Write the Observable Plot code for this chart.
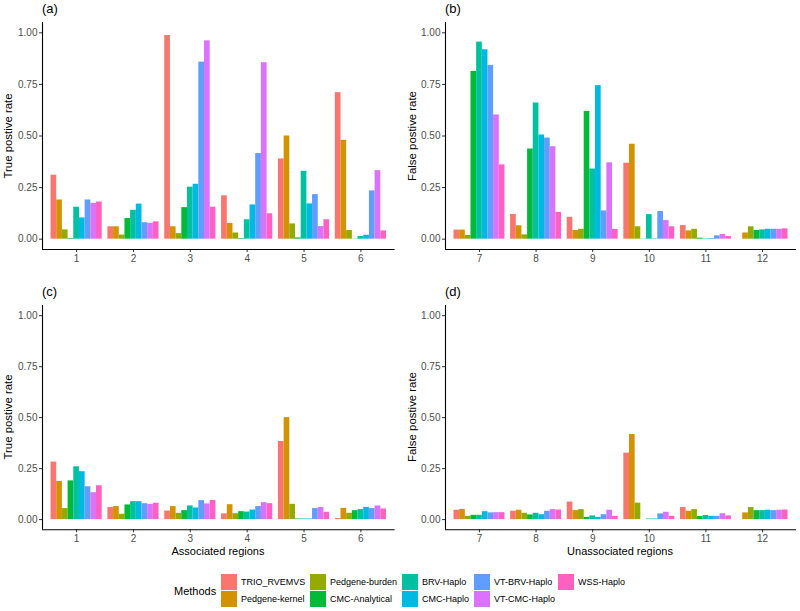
<!DOCTYPE html>
<html>
<head>
<meta charset="utf-8">
<script src="https://cdn.jsdelivr.net/npm/d3@7"></script>
<script src="https://cdn.jsdelivr.net/npm/@observablehq/plot@0.6"></script>
<style>
  body { margin: 0; background: #fff; font-family: "Liberation Sans", Arial, Helvetica, sans-serif; }
  #fig { position: relative; width: 800px; height: 611px; overflow: hidden; }
  .panel { position: absolute; }
  .plabel { position: absolute; font-size: 13px; line-height: 13px; color: #000; }
  .ytitle { position: absolute; font-size: 11.4px; color: #000; white-space: nowrap; transform: translate(-50%, -50%) rotate(-90deg); }
  .xtitle { position: absolute; font-size: 11px; color: #000; white-space: nowrap; transform: translate(-50%, -50%); }
  .leg-title { position: absolute; font-size: 11px; color: #000; transform: translateY(-50%); }
  .leg-key { position: absolute; width: 16px; height: 16px; }
  .leg-text { position: absolute; font-size: 9px; color: #000; transform: translateY(-50%); white-space: nowrap; }
</style>
</head>
<body>
<div id="fig"></div>
<script>
const methods = ["TRIO_RVEMVS", "Pedgene-kernel", "Pedgene-burden", "CMC-Analytical", "BRV-Haplo", "CMC-Haplo", "VT-BRV-Haplo", "VT-CMC-Haplo", "WSS-Haplo"];
const methodColors = ["#F8766D", "#D39200", "#93AA00", "#00BA38", "#00C19F", "#00B9E3", "#619CFF", "#DB72FB", "#FF61C3"];

const associatedRegions = [1, 2, 3, 4, 5, 6];
const unassociatedRegions = [7, 8, 9, 10, 11, 12];
const yTicks = [0, 0.25, 0.5, 0.75, 1];

// values per region, in method order
const tprA = [
  [0.31, 0.19, 0.045, 0.003, 0.155, 0.103, 0.19, 0.173, 0.18],
  [0.06, 0.06, 0.02, 0.10, 0.14, 0.17, 0.08, 0.077, 0.084],
  [0.987, 0.06, 0.027, 0.153, 0.252, 0.266, 0.858, 0.961, 0.155],
  [0.21, 0.076, 0.03, 0.003, 0.094, 0.166, 0.415, 0.855, 0.123],
  [0.389, 0.50, 0.074, 0.006, 0.329, 0.171, 0.216, 0.061, 0.094],
  [0.71, 0.479, 0.042, 0.001, 0.013, 0.019, 0.234, 0.332, 0.04]
];
const fprB = [
  [0.044, 0.044, 0.018, 0.813, 0.955, 0.918, 0.842, 0.602, 0.36],
  [0.12, 0.065, 0.021, 0.437, 0.66, 0.505, 0.49, 0.448, 0.13],
  [0.106, 0.042, 0.048, 0.619, 0.34, 0.744, 0.137, 0.37, 0.047],
  [0.368, 0.46, 0.06, 0.001, 0.119, 0.002, 0.134, 0.09, 0.06],
  [0.066, 0.04, 0.048, 0.005, 0.002, 0.003, 0.016, 0.023, 0.013],
  [0.0, 0.03, 0.06, 0.042, 0.045, 0.048, 0.048, 0.048, 0.05]
];
const tprC = [
  [0.282, 0.187, 0.054, 0.19, 0.259, 0.235, 0.161, 0.132, 0.166],
  [0.059, 0.064, 0.026, 0.072, 0.088, 0.088, 0.078, 0.075, 0.08],
  [0.042, 0.064, 0.031, 0.044, 0.067, 0.057, 0.093, 0.077, 0.094],
  [0.028, 0.073, 0.029, 0.039, 0.037, 0.047, 0.064, 0.083, 0.078],
  [0.383, 0.50, 0.075, 0.003, 0.003, 0.003, 0.054, 0.059, 0.036],
  [0.005, 0.055, 0.031, 0.044, 0.049, 0.06, 0.054, 0.067, 0.052]
];
const fprD = [
  [0.046, 0.05, 0.016, 0.021, 0.021, 0.039, 0.033, 0.034, 0.034],
  [0.041, 0.046, 0.031, 0.023, 0.031, 0.024, 0.041, 0.049, 0.047],
  [0.086, 0.044, 0.049, 0.011, 0.018, 0.011, 0.024, 0.046, 0.016],
  [0.326, 0.417, 0.081, 0.0, 0.003, 0.003, 0.028, 0.036, 0.016],
  [0.059, 0.041, 0.049, 0.015, 0.02, 0.016, 0.016, 0.029, 0.018],
  [0.0, 0.033, 0.059, 0.044, 0.044, 0.046, 0.044, 0.046, 0.047]
];

const fig = document.getElementById("fig");
const dodge = 0.9 / methods.length;

function toRows(regions, values) {
  const rows = [];
  regions.forEach((r, gi) => {
    methods.forEach((m, mi) => {
      rows.push({region: r, method: m, mi, value: values[gi][mi]});
    });
  });
  return rows;
}

function panel({regions, values, left, top, width, height, mTop, mBottom, mLeft, mRight}) {
  const rows = toRows(regions, values);
  const lo = regions[0] - 0.6, hi = regions[regions.length - 1] + 0.6;
  const chart = Plot.plot({
    width, height,
    marginTop: mTop, marginBottom: mBottom, marginLeft: mLeft, marginRight: mRight,
    style: {fontFamily: '"Liberation Sans", Arial, sans-serif', fontSize: "10px", background: "transparent", overflow: "visible", color: "#4D4D4D"},
    x: {domain: [lo, hi], axis: null},
    y: {domain: [-0.05, 1.05], axis: null},
    color: {domain: methods, range: methodColors},
    marks: [
      Plot.rectY(rows, {
        x1: d => d.region - 0.45 + d.mi * dodge,
        x2: d => d.region - 0.45 + (d.mi + 1) * dodge,
        y1: 0, y2: "value", fill: "method"
      }),
      Plot.axisY({ticks: yTicks, tickFormat: d3.format(".2f"), tickSize: 3, tickPadding: 2, fill: "#4D4D4D", stroke: "#333333", fontSize: 10, label: null}),
      Plot.axisX({ticks: regions, tickFormat: d => String(d), tickSize: 3, tickPadding: 2, fill: "#4D4D4D", stroke: "#333333", fontSize: 10, label: null}),
      Plot.ruleX([lo], {stroke: "#000", strokeWidth: 1.1}),
      Plot.ruleY([-0.05], {stroke: "#000", strokeWidth: 1.1})
    ]
  });
  chart.classList.add("panel");
  chart.style.left = left + "px";
  chart.style.top = top + "px";
  fig.appendChild(chart);
}

panel({regions: associatedRegions, values: tprA, left: 0, top: 0, width: 400, height: 270, mTop: 22, mBottom: 21, mLeft: 42, mRight: 5.5});
panel({regions: unassociatedRegions, values: fprB, left: 400, top: 0, width: 400, height: 270, mTop: 22, mBottom: 21, mLeft: 45, mRight: 4});
panel({regions: associatedRegions, values: tprC, left: 0, top: 270, width: 400, height: 290, mTop: 35, mBottom: 30.7, mLeft: 42, mRight: 5.5});
panel({regions: unassociatedRegions, values: fprD, left: 400, top: 270, width: 400, height: 290, mTop: 35, mBottom: 30.7, mLeft: 45, mRight: 4});

function addDiv(cls, text, css) {
  const d = document.createElement("div");
  d.className = cls;
  d.textContent = text;
  Object.assign(d.style, css);
  fig.appendChild(d);
  return d;
}

// panel tags
addDiv("plabel", "(a)", {left: "42px", top: "2px"});
addDiv("plabel", "(b)", {left: "445px", top: "2px"});
addDiv("plabel", "(c)", {left: "42px", top: "285px"});
addDiv("plabel", "(d)", {left: "445px", top: "285px"});

// axis titles
addDiv("ytitle", "True postive rate", {left: "8px", top: "136px"});
addDiv("ytitle", "False postive rate", {left: "412px", top: "136px"});
addDiv("ytitle", "True postive rate", {left: "8px", top: "417px"});
addDiv("ytitle", "False postive rate", {left: "412px", top: "417px"});
addDiv("xtitle", "Associated regions", {left: "218px", top: "551px"});
addDiv("xtitle", "Unassociated regions", {left: "620px", top: "551px"});

// legend
addDiv("leg-title", "Methods", {left: "174px", top: "591px"});
const colX = [221, 310, 402, 474, 558];
const rowY = [574, 591];
methods.forEach((m, i) => {
  const col = Math.floor(i / 2), row = i % 2;
  addDiv("leg-key", "", {left: colX[col] + "px", top: rowY[row] + "px", background: methodColors[i]});
  addDiv("leg-text", m, {left: (colX[col] + 20) + "px", top: (rowY[row] + 8) + "px"});
});
</script>
</body>
</html>
